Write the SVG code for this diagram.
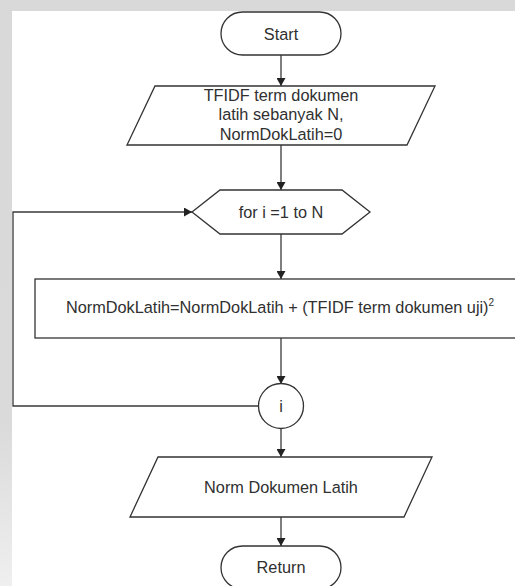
<svg xmlns="http://www.w3.org/2000/svg" width="515" height="586" viewBox="0 0 515 586">
  <style>
    .shape { fill: #ffffff; stroke: #333333; stroke-width: 1.3; }
    .flow { fill: none; stroke: #3a3a3a; stroke-width: 1.3; }
    .label { font-family: "Liberation Sans", Arial, sans-serif; font-size: 16.3px; fill: #303030; text-anchor: middle; }
  </style>
  <defs>
    <marker id="arrow" markerUnits="userSpaceOnUse" markerWidth="9" markerHeight="9" refX="8" refY="4.5" orient="auto">
      <path d="M0,0 L8,4.5 L0,9 z" fill="#222222"/>
    </marker>
    <linearGradient id="band" x1="0" y1="0" x2="0" y2="1">
      <stop offset="0" stop-color="#d9d9d9"/>
      <stop offset="0.72" stop-color="#dadada"/>
      <stop offset="1" stop-color="#efefef"/>
    </linearGradient>
  </defs>

  <!-- page background with grey margin -->
  <rect x="0" y="0" width="515" height="586" fill="#ffffff"/>
  <rect x="0" y="0" width="515" height="11" fill="#d9d9d9"/>
  <rect x="0" y="0" width="12" height="586" fill="url(#band)"/>

  <!-- connectors -->
  <g id="connectors">
    <line class="flow" x1="281" y1="55" x2="281" y2="86" marker-end="url(#arrow)"/>
    <line class="flow" x1="281" y1="145" x2="281" y2="190" marker-end="url(#arrow)"/>
    <line class="flow" x1="281" y1="234" x2="281" y2="279" marker-end="url(#arrow)"/>
    <line class="flow" x1="281" y1="338" x2="281" y2="384" marker-end="url(#arrow)"/>
    <line class="flow" x1="281" y1="428" x2="281" y2="457" marker-end="url(#arrow)"/>
    <line class="flow" x1="281" y1="517" x2="281" y2="546" marker-end="url(#arrow)"/>
    <!-- loop back from connector i to the for-loop -->
    <polyline class="flow" points="259,406 13,406 13,212 192,212" marker-end="url(#arrow)"/>
  </g>

  <g id="start">
    <rect class="shape" x="221" y="12" width="120" height="43" rx="21.5" ry="21.5"/>
    <text class="label" x="281" y="39.5">Start</text>
  </g>

  <g id="input">
    <polygon class="shape" points="155,86 435,86 407,145 127,145"/>
    <text class="label" x="281" y="100.5">TFIDF term dokumen</text>
    <text class="label" x="281" y="120">latih sebanyak N,</text>
    <text class="label" x="281" y="139.5">NormDokLatih=0</text>
  </g>

  <g id="loop">
    <polygon class="shape" points="192,212 220,190 342,190 370,212 342,234 220,234"/>
    <text class="label" x="281" y="218">for i =1 to N</text>
  </g>

  <g id="process">
    <rect class="shape" x="35" y="279" width="500" height="59"/>
    <text class="label" x="66" y="313" style="text-anchor:start">NormDokLatih=NormDokLatih + (TFIDF term dokumen uji)<tspan dy="-7" font-size="10px">2</tspan></text>
  </g>

  <g id="connector-i">
    <circle class="shape" cx="281" cy="406" r="22.5"/>
    <text class="label" x="281" y="412">i</text>
  </g>

  <g id="output">
    <polygon class="shape" points="158,457 432,457 404,517 130,517"/>
    <text class="label" x="281" y="492.5">Norm Dokumen Latih</text>
  </g>

  <g id="return">
    <rect class="shape" x="221" y="546" width="120" height="43" rx="21.5" ry="21.5"/>
    <text class="label" x="281" y="573">Return</text>
  </g>
</svg>
